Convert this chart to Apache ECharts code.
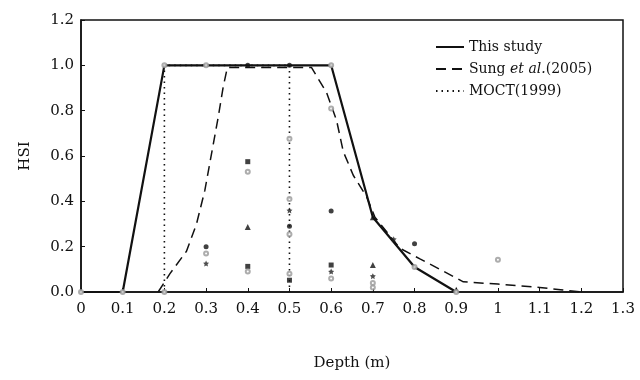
<!DOCTYPE html>
<html>
<head>
<meta charset="utf-8">
<script src="https://cdn.jsdelivr.net/npm/echarts@6/dist/echarts.min.js"></script>
<style>
html,body{margin:0;padding:0;background:#fff;}
#chart{width:640px;height:380px;}
</style>
</head>
<body>
<div id="chart"></div>
<script>
// Depth (m) vs HSI
const thisStudy = [[0,0],[0.1,0],[0.2,1.0],[0.6,1.0],[0.7,0.33],[0.8,0.11],[0.9,0]];
const sung2005 = [[0.185,0],[0.213,0.08],[0.253,0.18],[0.277,0.30],[0.297,0.448],[0.313,0.609],[0.329,0.77],[0.341,0.904],[0.351,0.99],[0.553,0.99],[0.589,0.88],[0.613,0.757],[0.629,0.62],[0.653,0.515],[0.685,0.42],[0.705,0.33],[0.765,0.193],[0.813,0.146],[0.861,0.10],[0.917,0.045],[1.0,0.035],[1.1,0.02],[1.15,0.01],[1.2,0]];
const moct1999 = [[0.2,0],[0.2,1.0],[0.5,1.0],[0.5,0]];

const obsCircle = [[0.3,0.20],[0.4,1.0],[0.5,0.29],[0.6,0.357],[0.8,0.213],[0.5,1.0]];
const obsSquare = [[0.4,0.575],[0.4,0.113],[0.5,0.052],[0.6,0.119]];
const obsTriangle = [[0.4,0.287],[0.7,0.119],[0.7,0.33],[0.9,0.01]];
const obsStar = [[0.3,0.126],[0.5,0.36],[0.6,0.09],[0.7,0.07],[0.75,0.233]];
const obsGrey = [[0,0],[0.1,0],[0.2,0],[0.2,1.0],[0.3,1.0],[0.6,1.0],[0.6,0.81],[0.5,0.676],[0.5,0.41],[0.5,0.255],[0.3,0.17],[0.4,0.53],[0.4,0.09],[0.5,0.08],[0.6,0.06],[0.7,0.04],[0.7,0.02],[1.0,0.142],[0.8,0.11],[0.9,0]];

const xTicks = {min:0, max:1.3, interval:0.1};
const yTicks = {min:0, max:1.2, interval:0.2};

const FONT = 'DejaVu Serif';
const chart = echarts.init(document.getElementById('chart'), null, {renderer:'canvas'});

const starPath = 'path://M0,-10L2.9,-4L9.5,-3.1L4.7,1.5L5.9,8.1L0,5L-5.9,8.1L-4.7,1.5L-9.5,-3.1L-2.9,-4Z';

function sc(name, data, symbol, size, color){
  return {name, type:'scatter', data, symbol, symbolSize:size, itemStyle:{color}, z:5, silent:true};
}

chart.setOption({
  animation:false,
  backgroundColor:'#fff',
  grid:{left:81, right:17, top:20, bottom:88, show:true, borderColor:'#111', borderWidth:1.5, backgroundColor:'transparent'},
  legend:{
    data:['This study','Sung et al. (2005)','MOCT (1999)'],
    orient:'vertical', left:430, top:35, itemWidth:28, itemHeight:10, itemGap:8,
    itemStyle:{opacity:0},
    textStyle:{fontFamily:FONT, fontSize:14, color:'#111',
      rich:{n:{fontFamily:FONT,fontSize:14,color:'#111'}, i:{fontFamily:FONT,fontSize:14,fontStyle:'italic',color:'#111'}}},
    formatter:function(name){
      if(name.indexOf('Sung')===0) return '{n|Sung }{i|et al.}{n|(2005)}';
      return '{n|'+name.replace(' (', '(')+'}';
    }
  },
  xAxis:{
    type:'value', min:xTicks.min, max:xTicks.max, interval:xTicks.interval,
    name:'Depth (m)', nameLocation:'middle', nameGap:64,
    nameTextStyle:{fontFamily:FONT, fontSize:15, color:'#111'},
    axisLine:{lineStyle:{color:'#111', width:1.5}},
    axisTick:{inside:true, length:4, lineStyle:{color:'#111'}},
    axisLabel:{fontFamily:FONT, fontSize:15, color:'#111', margin:10,
      formatter:v=>String(Math.round(v*10)/10)},
    splitLine:{show:false}
  },
  yAxis:{
    type:'value', min:yTicks.min, max:yTicks.max, interval:yTicks.interval,
    name:'HSI', nameLocation:'middle', nameGap:48,
    nameTextStyle:{fontFamily:FONT, fontSize:15, color:'#111'},
    axisLine:{show:true, lineStyle:{color:'#111', width:1.5}},
    axisTick:{show:true, inside:true, length:4, lineStyle:{color:'#111'}},
    axisLabel:{fontFamily:FONT, fontSize:15, color:'#111', margin:7,
      formatter:v=>v.toFixed(1)},
    splitLine:{show:false}
  },
  series:[
    {name:'This study', type:'line', data:thisStudy, showSymbol:false, symbol:'none',
     lineStyle:{color:'#111', width:2.2, type:'solid'}, itemStyle:{color:'#111'}, z:4},
    {name:'Sung et al. (2005)', type:'line', data:sung2005, showSymbol:false, symbol:'none',
     lineStyle:{color:'#111', width:1.5, type:[10,6]}, itemStyle:{color:'#111'}, z:3},
    {name:'MOCT (1999)', type:'line', data:moct1999, showSymbol:false, symbol:'none',
     lineStyle:{color:'#111', width:1.6, type:[1.5,4]}, itemStyle:{color:'#111'}, z:3},
    sc('c', obsCircle, 'circle', 5, '#111'),
    sc('s', obsSquare, 'rect', 5, '#111'),
    sc('t', obsTriangle, 'triangle', 6, '#111'),
    sc('st', obsStar, starPath, 6, '#222'),
    sc('g', obsGrey, 'emptyCircle', 4, '#999')
  ]
});
</script>
</body>
</html>
